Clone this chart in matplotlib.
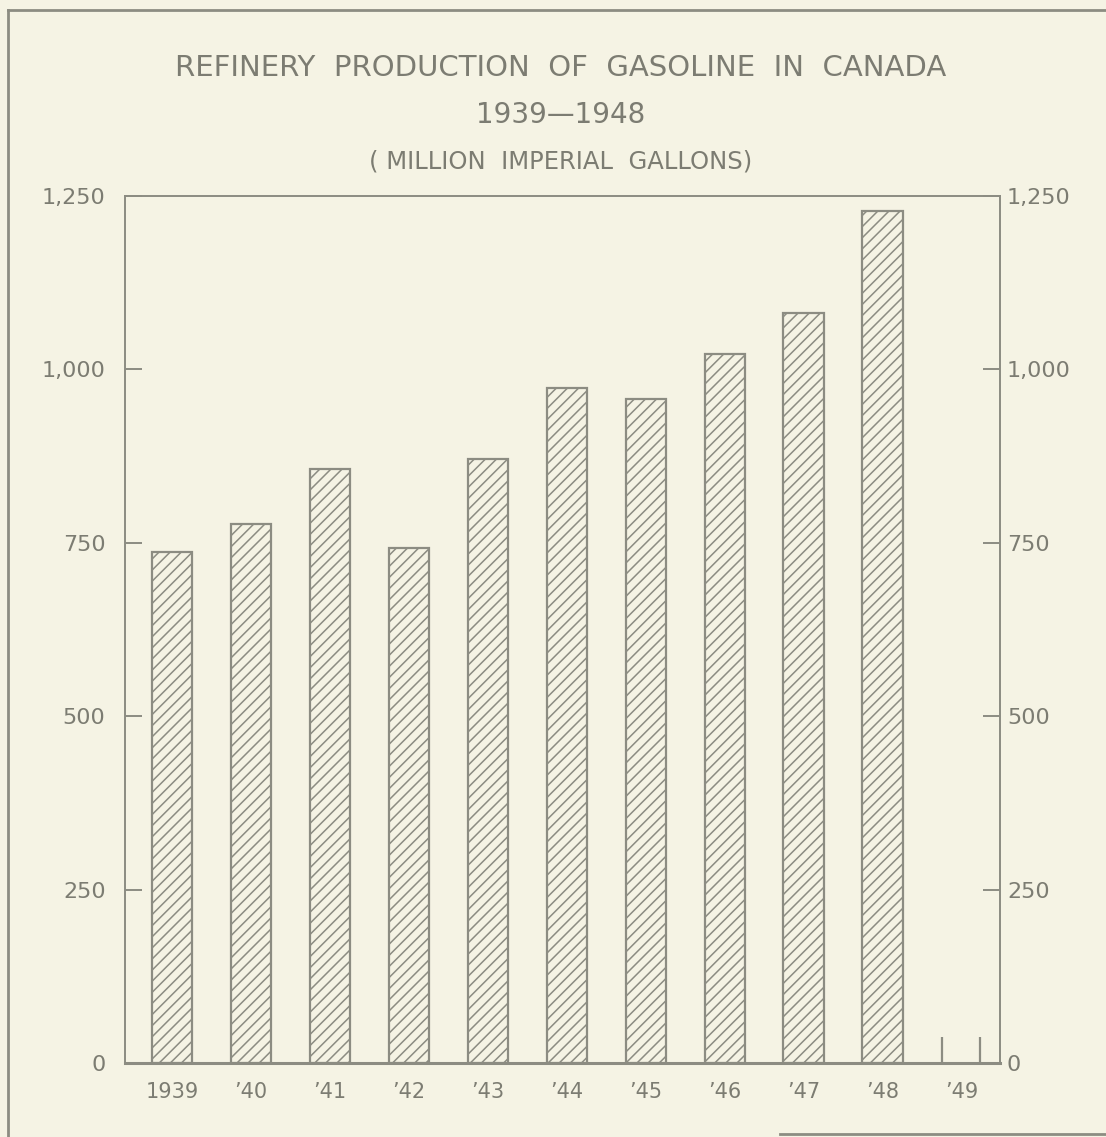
import matplotlib.pyplot as plt
from matplotlib.lines import Line2D

# Gasoline production, million imperial gallons
years = ["1939", "\u201940", "\u201941", "\u201942", "\u201943", "\u201944",
         "\u201945", "\u201946", "\u201947", "\u201948", "\u201949"]
production = [737, 777, 856, 742, 871, 973, 957, 1022, 1081, 1228]
yticks = [0, 250, 500, 750, 1000, 1250]
ytick_labels = ["0", "250", "500", "750", "1,000", "1,250"]

bg = "#f5f3e4"
ink = "#8c8c82"
text_col = "#7c7c72"

plt.rcParams['hatch.linewidth'] = 1.1
plt.rcParams['hatch.color'] = ink

fig = plt.figure(figsize=(11.06, 11.37), dpi=100, facecolor=bg)
ax = fig.add_axes([125 / 1106, 74 / 1137, 875 / 1106, 867 / 1137])
ax.set_facecolor(bg)

x = list(range(len(production)))
ax.bar(x, production, width=0.51, facecolor=bg, edgecolor=ink,
       hatch="///", linewidth=1.6)

# empty slot for 1949: two short marks
ax.vlines([10 - 0.24, 10 + 0.24], 0, 38, color=ink, lw=1.6)

ax.set_xlim(-0.6, 10.49)
ax.set_ylim(0, 1250)

for s in ax.spines.values():
    s.set_color(ink)
    s.set_linewidth(1.4)
ax.spines['bottom'].set_linewidth(2.2)

ax.set_xticks(range(len(years)))
ax.set_xticklabels(years)
ax.tick_params(axis='x', length=0, pad=14, labelsize=15, labelcolor=text_col)

ax.set_yticks(yticks)
ax.set_yticklabels(ytick_labels)
ax.tick_params(axis='y', direction='in', length=12, width=1.4, color=ink,
               labelsize=16, labelcolor=text_col, pad=14)

# right-hand scale
ax2 = ax.twinx()
ax2.set_ylim(0, 1250)
ax2.set_yticks(yticks)
ax2.set_yticklabels(ytick_labels)
ax2.tick_params(axis='y', direction='in', length=12, width=1.4, color=ink,
                labelsize=16, labelcolor=text_col, pad=5)
for s in ax2.spines.values():
    s.set_visible(False)

# title block
fig.text(0.507, 1 - 68 / 1137, "REFINERY  PRODUCTION  OF  GASOLINE  IN  CANADA",
         ha='center', va='center', fontsize=21, color=text_col)
fig.text(0.507, 1 - 115 / 1137, "1939\u20141948",
         ha='center', va='center', fontsize=20, color=text_col)
fig.text(0.507, 1 - 162 / 1137, "( MILLION  IMPERIAL  GALLONS)",
         ha='center', va='center', fontsize=17.5, color=text_col)

# outer frame lines
fig.add_artist(Line2D([8 / 1106, 8 / 1106], [0, 1 - 10 / 1137],
                      transform=fig.transFigure, color=ink, lw=2))
fig.add_artist(Line2D([8 / 1106, 1], [1 - 10 / 1137, 1 - 10 / 1137],
                      transform=fig.transFigure, color=ink, lw=2))
fig.add_artist(Line2D([780 / 1106, 1], [3 / 1137, 3 / 1137],
                      transform=fig.transFigure, color=ink, lw=2))

fig.savefig("out.png", dpi=100, facecolor=bg)
